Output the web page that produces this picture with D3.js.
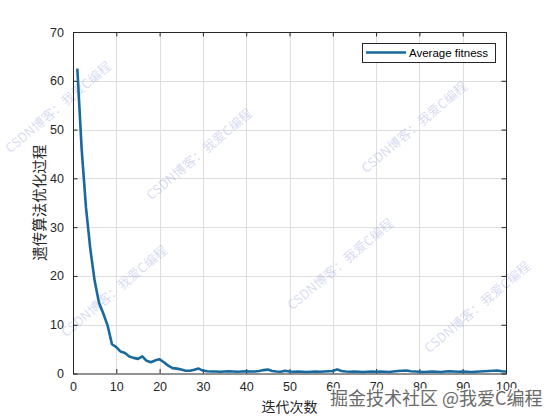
<!DOCTYPE html>
<html>
<head>
<meta charset="utf-8">
<script src="https://cdn.jsdelivr.net/npm/d3@7"></script>
<style>
  html, body { margin: 0; padding: 0; background: #fff; }
  svg { display: block; }
  .tick text { font-family: "Liberation Sans", Arial, sans-serif; }
</style>
</head>
<body>
<svg id="chart" width="560" height="420"></svg>
<script>
// average fitness per generation
const fitness = [
  62.5, 46, 34, 25.5, 19, 14.5, 12.3, 9.8, 6.0, 5.4,
  4.5, 4.2, 3.5, 3.2, 3.0, 3.5, 2.6, 2.3, 2.7, 2.9,
  2.3, 1.6, 1.1, 1.0, 0.8, 0.55, 0.55, 0.75, 1.0, 0.6,
  0.45, 0.4, 0.4, 0.35, 0.4, 0.45, 0.4, 0.35, 0.4, 0.45,
  0.4, 0.4, 0.5, 0.7, 0.8, 0.5, 0.4, 0.35, 0.55, 0.4,
  0.35, 0.4, 0.35, 0.3, 0.35, 0.4, 0.35, 0.4, 0.45, 0.5,
  0.85, 0.5, 0.4, 0.35, 0.4, 0.35, 0.3, 0.35, 0.4, 0.35,
  0.4, 0.35, 0.3, 0.4, 0.5, 0.55, 0.6, 0.45, 0.4, 0.35,
  0.3, 0.35, 0.4, 0.35, 0.3, 0.4, 0.45, 0.4, 0.35, 0.4,
  0.35, 0.3, 0.35, 0.4, 0.45, 0.5, 0.55, 0.6, 0.45, 0.4
];
const generations = fitness.map((_, i) => i + 1);
const xTicks = [0, 10, 20, 30, 40, 50, 60, 70, 80, 90, 100];
const yTicks = [0, 10, 20, 30, 40, 50, 60, 70];
const seriesName = "Average fitness";
const xLabel = "迭代次数";
const yLabel = "遗传算法优化过程";
const markText = "CSDN博客：我爱C编程";
const footText = "掘金技术社区 @我爱C编程";

const svg = d3.select("#chart");
const box = { left: 73, right: 506, top: 32, bottom: 373.5 };
const lineColor = "#17699e";
const axisColor = "#262626";

const x = d3.scaleLinear().domain([0, 100]).range([box.left, box.right]);
const y = d3.scaleLinear().domain([0, 70]).range([box.bottom, box.top]);

// grid
const grid = svg.append("g").attr("stroke", "#dedede").attr("stroke-width", 1);
grid.selectAll("line.gx").data(xTicks.slice(1, -1)).join("line")
  .attr("x1", (d) => Math.round(x(d)) + 0.5).attr("x2", (d) => Math.round(x(d)) + 0.5)
  .attr("y1", box.top).attr("y2", box.bottom);
grid.selectAll("line.gy").data(yTicks.slice(1, -1)).join("line")
  .attr("y1", (d) => Math.round(y(d)) + 0.5).attr("y2", (d) => Math.round(y(d)) + 0.5)
  .attr("x1", box.left).attr("x2", box.right);

// watermarks
const marks = [[59, 108], [200, 155], [415, 128], [115, 292], [341, 265], [478, 308]];
svg.append("g").selectAll("text").data(marks).join("text")
  .attr("transform", (d) => `translate(${d[0]},${d[1]}) rotate(-40)`)
  .attr("text-anchor", "middle").attr("dominant-baseline", "middle")
  .attr("font-family", "'Noto Sans CJK SC', sans-serif")
  .attr("font-size", 13)
  .attr("fill", "rgba(130,140,215,0.32)")
  .text(markText);

// axes (ticks inward, box on)
const tickLen = 4.5;
function styleAxis(g) {
  g.select(".domain").remove();
  g.selectAll(".tick line").attr("stroke", axisColor);
  g.selectAll(".tick text").attr("fill", axisColor).attr("font-size", 12.5);
}
svg.append("g").attr("transform", `translate(0,${box.bottom})`)
  .call(d3.axisBottom(x).tickValues(xTicks).tickSizeInner(-tickLen).tickSizeOuter(0).tickPadding(9))
  .call(styleAxis);
svg.append("g").attr("transform", `translate(0,${box.top})`)
  .call(d3.axisTop(x).tickValues(xTicks).tickSizeInner(-tickLen).tickSizeOuter(0).tickFormat(""))
  .call(styleAxis);
svg.append("g").attr("transform", `translate(${box.left},0)`)
  .call(d3.axisLeft(y).tickValues(yTicks).tickSizeInner(-tickLen).tickSizeOuter(0).tickPadding(9))
  .call(styleAxis);
svg.append("g").attr("transform", `translate(${box.right},0)`)
  .call(d3.axisRight(y).tickValues(yTicks).tickSizeInner(-tickLen).tickSizeOuter(0).tickFormat(""))
  .call(styleAxis);

svg.append("rect")
  .attr("x", box.left + 0.5).attr("y", box.top + 0.5)
  .attr("width", box.right - box.left).attr("height", box.bottom - box.top)
  .attr("fill", "none").attr("stroke", axisColor).attr("stroke-width", 1);

// series
const line = d3.line().x((d, i) => x(generations[i])).y((d) => y(d));
svg.append("path").datum(fitness)
  .attr("d", line)
  .attr("fill", "none").attr("stroke", lineColor)
  .attr("stroke-width", 2.6).attr("stroke-linejoin", "round");

// labels
svg.append("text")
  .attr("x", (box.left + box.right) / 2).attr("y", 412)
  .attr("text-anchor", "middle")
  .attr("font-family", "'Noto Sans CJK SC', sans-serif").attr("font-size", 14)
  .attr("fill", axisColor).text(xLabel);
svg.append("text")
  .attr("transform", `translate(45,${(box.top + box.bottom) / 2}) rotate(-90)`)
  .attr("text-anchor", "middle")
  .attr("font-family", "'Noto Sans CJK SC', sans-serif").attr("font-size", 14.5)
  .attr("fill", axisColor).text(yLabel);

// legend
const lg = svg.append("g");
lg.append("rect").attr("x", 362.5).attr("y", 43.5).attr("width", 133).attr("height", 19)
  .attr("fill", "#fff").attr("stroke", axisColor).attr("stroke-width", 1);
lg.append("line").attr("x1", 366).attr("x2", 406).attr("y1", 52.5).attr("y2", 52.5)
  .attr("stroke", lineColor).attr("stroke-width", 2.6);
lg.append("text").attr("x", 409).attr("y", 56.5)
  .attr("font-family", "'Liberation Sans', Arial, sans-serif").attr("font-size", 11.5)
  .attr("fill", "#000").text(seriesName);

// footer watermark
svg.append("text")
  .attr("x", 330).attr("y", 405)
  .attr("font-family", "'Noto Sans CJK SC', sans-serif").attr("font-size", 18)
  .attr("fill", "#6a6a6a").attr("stroke", "#fff").attr("stroke-width", 3)
  .attr("paint-order", "stroke")
  .text(footText);
</script>
</body>
</html>
